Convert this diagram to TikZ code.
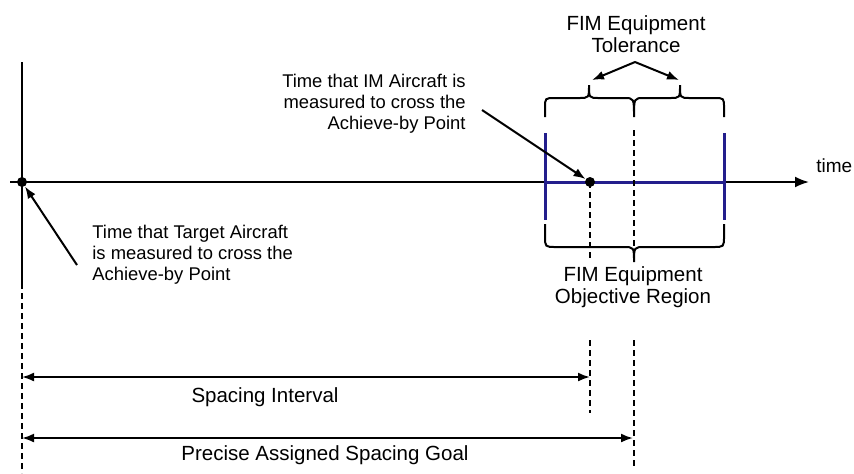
\documentclass[tikz,border=0pt]{standalone}
\usepackage{fontspec}
\setmainfont{Liberation Sans}
\usetikzlibrary{arrows.meta}
\definecolor{navyline}{RGB}{35,30,140}
\begin{document}
\begin{tikzpicture}[x=0.5pt,y=-0.5pt,
  thin line/.style={line width=1pt},
  dsh/.style={line width=0.9pt, dash pattern=on 3pt off 2pt},
  tip/.style={-{Latex[length=6pt,width=4.5pt]}},
  twotip/.style={{Latex[length=6pt,width=4.5pt]}-{Latex[length=6pt,width=4.5pt]}},
  annot/.style={font=\fontsize{9.2}{10.4}\selectfont, inner sep=0pt},
  lbl/.style={font=\fontsize{10.25}{11}\selectfont, inner sep=0pt, align=center},
  dot/.style={circle, fill=black, minimum size=5pt, inner sep=0pt},
  navy/.style={draw=navyline, line width=1.5pt}]
\useasboundingbox (0,0) rectangle (854,473);

% coordinates
\coordinate (axstart) at (10,182);
\coordinate (axend) at (809,182);
\coordinate (ltop) at (22,62);
\coordinate (lmid) at (22,283);
\coordinate (lbot) at (22,473);
\coordinate (bl) at (545,133);
\coordinate (bl2) at (545,220);
\coordinate (br) at (724,133);
\coordinate (br2) at (724,220);
\coordinate (hl) at (545,182);
\coordinate (hr) at (724,182);
\coordinate (ctop) at (634,130);
\coordinate (cbot) at (634,262);
\coordinate (imlow) at (590,260);
\coordinate (d1top) at (590,340);
\coordinate (d1bot) at (590,413);
\coordinate (d2top) at (634,340);
\coordinate (d2bot) at (634,467);
\coordinate (tgtfrom) at (77,265);
\coordinate (imfrom) at (482,110);
\coordinate (tolfrom) at (635,62);
\coordinate (tolL) at (592,80);
\coordinate (tolR) at (679,80);
\coordinate (siL) at (22,377);
\coordinate (siR) at (590,377);
\coordinate (pgL) at (22,438);
\coordinate (pgR) at (633,438);

% axis
\draw[thin line, -{Latex[length=7pt,width=5.5pt]}] (axstart) -- (axend);
\node[annot, anchor=west, font=\fontsize{9.5}{10}\selectfont] (time) at (816,166) {time};

% left vertical
\draw[thin line] (ltop) -- (lmid);
\draw[dsh] (lmid) -- (lbot);

% navy region
\draw[navy] (bl) -- (bl2);
\draw[navy] (br) -- (br2);
\draw[navy] (hl) -- (hr);

% dashed verticals
\draw[dsh] (ctop) -- (cbot);
\draw[dsh] (590,182) -- (imlow);
\draw[dsh] (d1top) -- (d1bot);
\draw[dsh] (d2top) -- (d2bot);

% dots
\node[dot] (tdot) at (22,182) {};
\node[dot] (imdot) at (590,182) {};

% annotation arrows
\draw[thin line, tip] (tgtfrom) -- (tdot);
\draw[thin line, tip] (imfrom) -- (imdot);

% texts
\node[annot, anchor=west, align=left] (tgt) at (92,255)
  {Time that Target Aircraft\\is measured to cross the\\Achieve-by Point};
\node[annot, anchor=east, align=right] (imt) at (466,104)
  {Time that IM Aircraft is\\measured to cross the\\Achieve-by Point};
\node[lbl] (tol) at (636,34) {FIM Equipment\\Tolerance};
\node[lbl] (obj) at (633,287) {FIM Equipment\\Objective Region};

% lower brace
\draw[thin line] (545,224) -- (545,236) .. controls (545,247) .. (556,247) -- (623,247)
  .. controls (634,247) .. (634,262) .. controls (634,247) .. (645,247) -- (713,247)
  .. controls (724,247) .. (724,236) -- (724,224);

% upper brace
\draw[thin line] (545,117) -- (545,108) .. controls (545,98) .. (555,98) -- (579,98)
  .. controls (589,98) .. (589,85) .. controls (589,98) .. (599,98) -- (624,98)
  .. controls (634,98) .. (634,117) .. controls (634,98) .. (644,98) -- (670,98)
  .. controls (680,98) .. (680,85) .. controls (680,98) .. (690,98) -- (714,98)
  .. controls (724,98) .. (724,108) -- (724,117);

% tolerance arrows
\draw[thin line, tip] (tolfrom) -- (tolL);
\draw[thin line, tip] (tolfrom) -- (tolR);

% bottom dimension arrows
\draw[thin line, twotip] (siL) -- (siR);
\node[lbl] (si) at (265,397) {Spacing Interval};
\draw[thin line, twotip] (pgL) -- (pgR);
\node[lbl] (pg) at (325,455) {Precise Assigned Spacing Goal};
\end{tikzpicture}
\end{document}
